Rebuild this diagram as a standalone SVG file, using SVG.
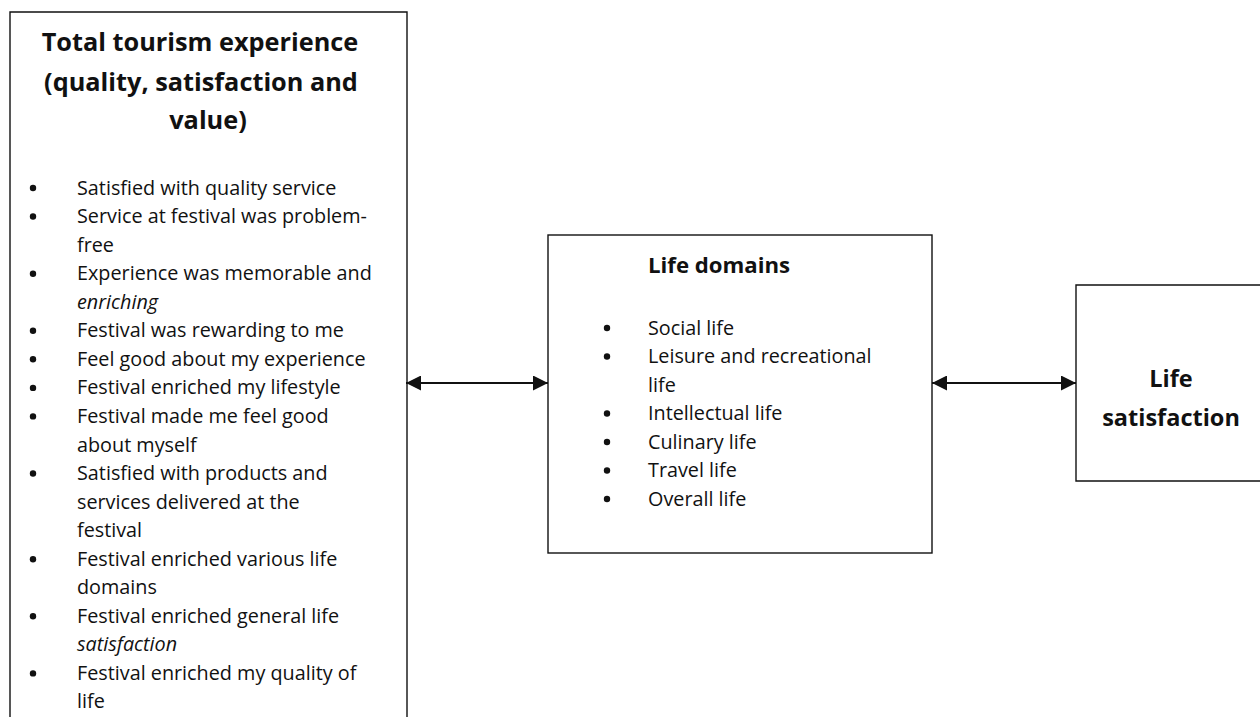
<svg xmlns="http://www.w3.org/2000/svg" width="1260" height="717" viewBox="0 0 1260 717">
<style>
.box{fill:none;stroke:#111;stroke-width:1.4}
.t{font-family:"Open Sans","Liberation Sans",sans-serif;font-size:19.8px;fill:#111}
.h{font-family:"Open Sans","Liberation Sans",sans-serif;font-size:25.3px;font-weight:bold;fill:#111}
.it{font-style:italic}
.b{fill:#111}
.conn{stroke:#111;stroke-width:2;fill:none}
</style>
<defs>
<marker id="ah" viewBox="0 0 15 15" refX="15" refY="7.5" markerWidth="15" markerHeight="15" markerUnits="userSpaceOnUse" orient="auto-start-reverse">
<path d="M0,0 L15,7.5 L0,15 Z" fill="#111"/>
</marker>
</defs>
<rect width="1260" height="717" fill="#fff"/>
<g id="node-tourism">
<path class="box" d="M10,717 V12 H407 V717"/>
<text class="h" text-anchor="middle" x="200" y="51">Total tourism experience</text>
<text class="h" text-anchor="middle" x="201" y="91">(quality, satisfaction and</text>
<text class="h" text-anchor="middle" x="208" y="129">value)</text>
<g class="b">
<circle cx="33" cy="188" r="3.2"/>
<circle cx="33" cy="216.5" r="3.2"/>
<circle cx="33" cy="273.7" r="3.2"/>
<circle cx="33" cy="330.8" r="3.2"/>
<circle cx="33" cy="359.3" r="3.2"/>
<circle cx="33" cy="387.9" r="3.2"/>
<circle cx="33" cy="416.4" r="3.2"/>
<circle cx="33" cy="473.5" r="3.2"/>
<circle cx="33" cy="559.2" r="3.2"/>
<circle cx="33" cy="616.3" r="3.2"/>
<circle cx="33" cy="673.4" r="3.2"/>
</g>
<text class="t" x="77" y="194.5">Satisfied with quality service</text>
<text class="t" x="77" y="223">Service at festival was problem-</text>
<text class="t" x="77" y="251.6">free</text>
<text class="t" x="77" y="280.2">Experience was memorable and</text>
<text class="t it" x="77" y="308.7">enriching</text>
<text class="t" x="77" y="337.3">Festival was rewarding to me</text>
<text class="t" x="77" y="365.8">Feel good about my experience</text>
<text class="t" x="77" y="394.4">Festival enriched my lifestyle</text>
<text class="t" x="77" y="422.9">Festival made me feel good</text>
<text class="t" x="77" y="451.5">about myself</text>
<text class="t" x="77" y="480">Satisfied with products and</text>
<text class="t" x="77" y="508.6">services delivered at the</text>
<text class="t" x="77" y="537.1">festival</text>
<text class="t" x="77" y="565.7">Festival enriched various life</text>
<text class="t" x="77" y="594.2">domains</text>
<text class="t" x="77" y="622.8">Festival enriched general life</text>
<text class="t it" x="77" y="651.3">satisfaction</text>
<text class="t" x="77" y="679.9">Festival enriched my quality of</text>
<text class="t" x="77" y="708.4">life</text>
</g>
<g id="node-domains">
<rect class="box" x="548" y="235" width="384" height="318"/>
<text class="h" x="648" y="273" style="font-size:22.2px">Life domains</text>
<g class="b">
<circle cx="607" cy="328" r="3.2"/>
<circle cx="607" cy="356.5" r="3.2"/>
<circle cx="607" cy="413.5" r="3.2"/>
<circle cx="607" cy="442" r="3.2"/>
<circle cx="607" cy="470.5" r="3.2"/>
<circle cx="607" cy="499" r="3.2"/>
</g>
<text class="t" x="648" y="334.5">Social life</text>
<text class="t" x="648" y="363">Leisure and recreational</text>
<text class="t" x="648" y="391.5">life</text>
<text class="t" x="648" y="420">Intellectual life</text>
<text class="t" x="648" y="448.5">Culinary life</text>
<text class="t" x="648" y="477">Travel life</text>
<text class="t" x="648" y="505.5">Overall life</text>
</g>
<g id="node-lifesat">
<path class="box" d="M1260,285 H1076 V481 H1260"/>
<text class="h" text-anchor="middle" x="1171" y="387" style="font-size:23.5px">Life</text>
<text class="h" text-anchor="middle" x="1171" y="426" style="font-size:23.5px">satisfaction</text>
</g>
<g id="connectors">
<line class="conn" x1="406" y1="383" x2="548" y2="383" marker-start="url(#ah)" marker-end="url(#ah)"/>
<line class="conn" x1="932" y1="383" x2="1076" y2="383" marker-start="url(#ah)" marker-end="url(#ah)"/>
</g>
</svg>
